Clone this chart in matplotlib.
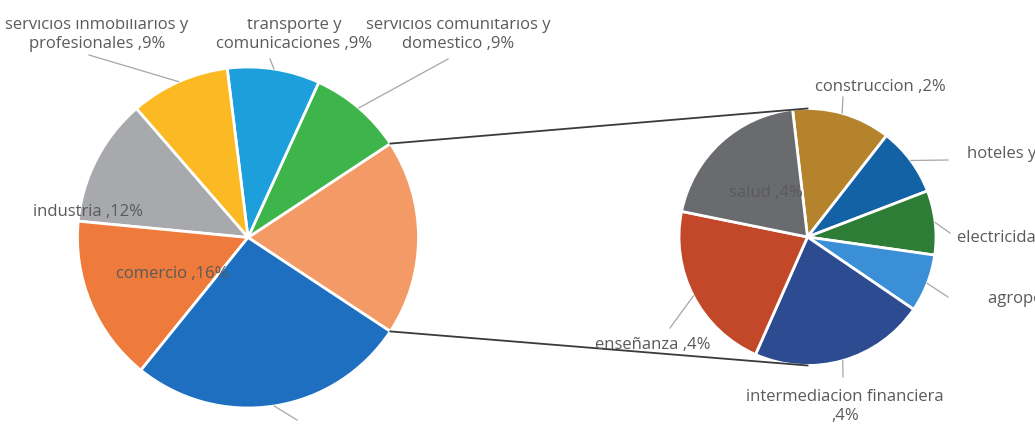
import numpy as np
import matplotlib.pyplot as plt

# datos (porcentajes)
sectores = ['otros', 'servicios comunitarios y\ndomestico', 'transporte y\ncomunicaciones',
            'servicios inmobiliarios y\nprofesionales', 'industria', 'comercio',
            'administracion publica']
valores = [0, 8.9, 8.75, 9.4, 12.1, 15.7, 26.5]
colores = ['#F39A66', '#3DB54A', '#1C9FDB', '#FBBA24', '#A7A9AC', '#EE7B3B', '#1E6FC0']

sub_sectores = ['construccion', 'hoteles y restaurantes', 'electricidad, gas y agua',
                'agropecuario', 'intermediacion financiera', 'enseñanza', 'salud']
sub_valores = [2.3, 1.6, 1.5, 1.35, 4.1, 4.0, 3.7]
sub_colores = ['#B5832C', '#1462A6', '#2E7D36', '#3A8FD6', '#2C4B90', '#C3482A', '#6A6B6F']

valores[0] = sum(sub_valores)

H = 444
CORTE = 18.5  # la imagen original esta recortada arriba
Y = lambda y: H - y  # coordenadas de imagen -> eje

fig = plt.figure(figsize=(10.35, 4.44), dpi=100)
ax = fig.add_axes([0, 0, 1, (H - CORTE) / H])

c1, r1 = (248, Y(237.5)), 170.5
c2, r2 = (807.5, Y(237)), 128.5

total = sum(valores)
w1, _ = ax.pie(valores, colors=colores, center=c1, radius=r1, counterclock=True,
               startangle=-180 * valores[0] / total,
               wedgeprops=dict(edgecolor='white', linewidth=2))
w2, _ = ax.pie(sub_valores, colors=sub_colores, center=c2, radius=r2, counterclock=False,
               startangle=96.7, wedgeprops=dict(edgecolor='white', linewidth=2))

ax.set_xlim(0, 1035)
ax.set_ylim(0, H - CORTE)
ax.axis('off')

# lineas de union entre las dos tortas
otro = w1[0]
for ang, yb in [(otro.theta2, c2[1] + r2), (otro.theta1, c2[1] - r2)]:
    a = np.deg2rad(ang)
    ax.plot([c1[0] + r1 * np.cos(a), c2[0]], [c1[1] + r1 * np.sin(a), yb],
            color='#3a3a3a', lw=1.3, zorder=1)

def punto(w, c, r):
    a = np.deg2rad((w.theta1 + w.theta2) / 2)
    return c[0] + r * np.cos(a), c[1] + r * np.sin(a)

txt = dict(fontsize=12, color='#5a5a5a', family=['Open Sans', 'DejaVu Sans'],
           va='baseline', multialignment='center', linespacing=1.22, clip_on=True)

def etiqueta(x, y, s, ha):
    t = ax.text(x, Y(y), s, ha=ha, **txt)
    t.set_clip_box(ax.bbox)  # el recorte de arriba corta la primera linea
    return t

# etiquetas: (indice, x, y baseline ultima linea, ha, fin de la linea guia)
etiq1 = [(1, 458, 48, 'center', (448, 59)),
         (2, 294, 48, 'center', (270, 59)),
         (3, 97, 48, 'center', (89, 55)),
         (4, 88, 216, 'center', None),
         (5, 172, 278, 'center', None),
         (6, 300, 458, 'center', (297, 420))]
for i, x, y, ha, fin in etiq1:
    etiqueta(x, y, f'{sectores[i]} ,{round(valores[i])}%', ha)
    if fin:
        px, py = punto(w1[i], c1, r1)
        ax.plot([px, fin[0]], [py, Y(fin[1])], color='#A6A6A6', lw=0.9)

etiq2 = [(0, 880, 91, 'center', (843, 97)),
         (1, 967, 177, 'left', (948, 160)),
         (2, 957, 242, 'left', (950, 233)),
         (3, 988, 303, 'left', (948, 297)),
         (4, 845, 420, 'center', (843, 377)),
         (5, 653, 349, 'center', (670, 328)),
         (6, 766, 197, 'center', None)]
for i, x, y, ha, fin in etiq2:
    sep = '\n' if i in (1, 4) else ' '
    etiqueta(x, y, f'{sub_sectores[i]}{sep},{round(sub_valores[i])}%', ha)
    if fin:
        px, py = punto(w2[i], c2, r2)
        ax.plot([px, fin[0]], [py, Y(fin[1])], color='#A6A6A6', lw=0.9)

fig.savefig('out.png', dpi=100)
